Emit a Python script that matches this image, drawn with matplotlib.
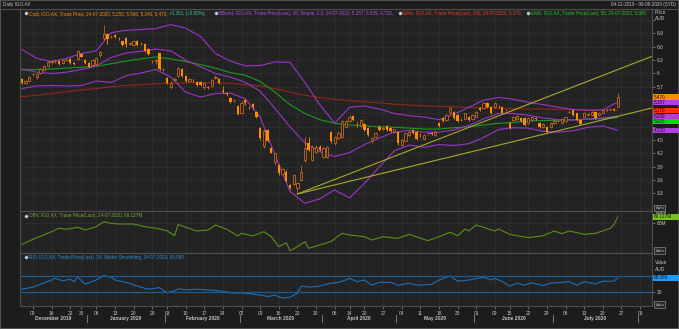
import numpy as np
import pandas as pd
import matplotlib
matplotlib.use("Agg")
import matplotlib.pyplot as plt
from matplotlib.lines import Line2D
from matplotlib.patches import Rectangle
from matplotlib.transforms import blended_transform_factory

plt.rcParams['font.family'] = ['Liberation Sans', 'DejaVu Sans']

# ---------------- data ----------------
ticker = "IGO.AX"
asx_holidays = ['2019-12-25', '2019-12-26', '2020-01-01', '2020-01-27',
                '2020-04-10', '2020-04-13', '2020-06-08']
axis_start, axis_end = '2019-12-04', '2020-08-06'

opens = [5.87, 5.78, 5.84, 5.98, 5.93, 6.00, 6.08, 6.17, 6.26, 6.27,
         6.29, 6.23, 6.30, 6.32, 6.23, 6.32, 6.44, 6.30, 6.23, 6.19,
         6.21, 6.42, 6.79, 6.89, 6.82, 6.86, 6.80, 6.72, 6.79, 6.67,
         6.64, 6.73, 6.66, 6.66, 6.55, 6.27, 6.29, 6.45, 6.09, 5.89,
         5.70, 5.86, 5.95, 6.11, 5.94, 5.82, 5.84, 5.81, 5.80, 5.70,
         5.70, 5.72, 5.90, 5.88, 5.60, 5.55, 5.44, 5.38, 5.27, 5.12,
         5.40, 5.23, 5.31, 5.14, 4.77, 4.36, 4.73, 4.32, 4.00, 3.94,
         3.74, 3.79, 3.49, 3.52, 3.42, 3.60, 4.05, 4.43, 4.05, 4.24,
         4.35, 4.13, 4.13, 4.69, 4.43, 4.54, 4.58, 4.80, 4.92, 5.04,
         4.86, 4.82, 4.86, 4.77, 4.47, 4.56, 4.80, 4.76, 4.82, 4.77,
         4.69, 4.69, 4.39, 4.49, 4.62, 4.73, 4.69, 4.62, 4.52, 4.65,
         4.65, 4.62, 4.88, 4.99, 4.95, 5.10, 5.14, 5.07, 4.95, 4.97,
         5.03, 4.97, 5.03, 5.23, 5.22, 5.33, 5.24, 5.25, 5.27, 5.24,
         5.18, 4.89, 4.95, 4.97, 4.99, 4.99, 4.88, 4.95, 4.99, 4.88,
         4.80, 4.80, 4.80, 4.88, 4.92, 4.89, 4.92, 5.13, 5.18, 5.10,
         4.95, 5.03, 5.07, 5.07, 5.14, 5.07, 5.10, 5.18, 5.19, 5.19,
         5.25]
highs = [5.89, 5.86, 5.95, 6.01, 6.02, 6.13, 6.19, 6.29, 6.31, 6.32,
         6.31, 6.33, 6.34, 6.34, 6.25, 6.53, 6.46, 6.32, 6.25, 6.32,
         6.36, 6.50, 7.09, 6.90, 6.86, 6.88, 6.83, 6.74, 6.81, 6.71,
         6.74, 6.75, 6.70, 6.68, 6.57, 6.31, 6.33, 6.47, 6.13, 5.91,
         5.82, 5.91, 6.15, 6.13, 5.96, 5.89, 5.87, 5.83, 5.82, 5.80,
         5.72, 5.87, 5.97, 5.90, 5.72, 5.57, 5.46, 5.42, 5.29, 5.37,
         5.43, 5.26, 5.33, 5.16, 4.80, 4.74, 4.76, 4.34, 4.22, 3.96,
         3.88, 3.82, 3.52, 3.74, 3.56, 3.94, 4.58, 4.58, 4.38, 4.40,
         4.38, 4.35, 4.37, 4.71, 4.60, 4.70, 4.95, 4.96, 5.06, 5.07,
         4.92, 4.98, 4.88, 4.79, 4.57, 4.68, 4.83, 4.80, 4.84, 4.79,
         4.76, 4.71, 4.53, 4.67, 4.72, 4.75, 4.71, 4.65, 4.64, 4.69,
         4.68, 4.72, 4.90, 5.01, 5.09, 5.25, 5.16, 5.09, 4.99, 5.12,
         5.05, 5.09, 5.16, 5.25, 5.35, 5.36, 5.26, 5.35, 5.30, 5.26,
         5.21, 4.91, 5.05, 5.07, 5.01, 5.01, 5.01, 5.03, 5.02, 4.90,
         4.88, 4.82, 4.90, 4.96, 4.95, 4.99, 5.03, 5.17, 5.20, 5.12,
         4.97, 5.14, 5.10, 5.16, 5.16, 5.14, 5.20, 5.20, 5.22, 5.22,
         5.56]
lows = [5.76, 5.77, 5.82, 5.95, 5.88, 5.98, 6.06, 6.15, 6.22, 6.23,
        6.19, 6.21, 6.27, 6.22, 6.19, 6.30, 6.36, 6.21, 6.13, 6.17,
        6.19, 6.38, 6.76, 6.66, 6.79, 6.80, 6.76, 6.62, 6.60, 6.64,
        6.62, 6.62, 6.63, 6.49, 6.41, 6.24, 6.22, 6.07, 6.05, 5.77,
        5.66, 5.83, 5.93, 5.92, 5.80, 5.80, 5.81, 5.72, 5.72, 5.66,
        5.65, 5.70, 5.88, 5.77, 5.55, 5.50, 5.33, 5.36, 5.06, 5.08,
        5.30, 5.19, 5.21, 5.00, 4.50, 4.32, 4.45, 4.20, 3.95, 3.72,
        3.70, 3.55, 3.40, 3.49, 3.30, 3.58, 4.00, 4.26, 4.02, 4.20,
        4.25, 4.10, 4.10, 4.44, 4.40, 4.52, 4.55, 4.78, 4.90, 4.93,
        4.77, 4.80, 4.70, 4.60, 4.44, 4.54, 4.71, 4.73, 4.71, 4.69,
        4.67, 4.40, 4.37, 4.47, 4.60, 4.63, 4.50, 4.58, 4.50, 4.62,
        4.61, 4.60, 4.80, 4.90, 4.93, 5.08, 4.97, 4.90, 4.92, 4.95,
        4.93, 4.95, 5.01, 5.16, 5.20, 5.22, 5.08, 5.23, 5.23, 5.10,
        5.15, 4.74, 4.93, 4.95, 4.90, 4.82, 4.86, 4.93, 4.96, 4.78,
        4.78, 4.67, 4.78, 4.86, 4.90, 4.87, 4.90, 5.10, 5.05, 4.93,
        4.84, 5.01, 5.05, 5.05, 4.97, 5.05, 5.08, 5.15, 5.17, 5.15,
        5.24]
closes = [5.78, 5.84, 5.93, 5.99, 5.99, 6.11, 6.16, 6.26, 6.27, 6.28,
          6.21, 6.31, 6.31, 6.24, 6.22, 6.50, 6.38, 6.23, 6.15, 6.30,
          6.34, 6.48, 6.89, 6.77, 6.83, 6.82, 6.79, 6.64, 6.66, 6.68,
          6.72, 6.64, 6.67, 6.51, 6.43, 6.28, 6.30, 6.09, 6.10, 5.79,
          5.79, 5.87, 6.13, 5.94, 5.82, 5.87, 5.83, 5.74, 5.74, 5.78,
          5.67, 5.85, 5.91, 5.79, 5.58, 5.54, 5.35, 5.39, 5.09, 5.34,
          5.33, 5.22, 5.24, 5.03, 4.54, 4.71, 4.48, 4.22, 4.20, 3.75,
          3.85, 3.57, 3.43, 3.71, 3.53, 3.79, 4.32, 4.28, 4.35, 4.35,
          4.28, 4.32, 4.35, 4.47, 4.58, 4.67, 4.92, 4.92, 5.03, 4.95,
          4.87, 4.95, 4.73, 4.62, 4.54, 4.65, 4.73, 4.77, 4.73, 4.71,
          4.74, 4.43, 4.50, 4.65, 4.69, 4.65, 4.52, 4.61, 4.62, 4.66,
          4.64, 4.69, 4.82, 4.92, 5.07, 5.22, 4.99, 4.92, 4.96, 5.10,
          4.95, 5.07, 5.14, 5.18, 5.33, 5.24, 5.10, 5.33, 5.26, 5.12,
          5.17, 4.77, 5.03, 5.04, 4.92, 4.84, 4.99, 5.01, 4.98, 4.80,
          4.86, 4.69, 4.88, 4.94, 4.93, 4.97, 5.01, 5.14, 5.07, 4.95,
          4.86, 5.12, 5.08, 5.14, 4.99, 5.12, 5.18, 5.17, 5.20, 5.17,
          5.47]

# overlays, read every 4th trading day
line_idx = list(range(0, 161, 4))
bb_upper = [6.54, 6.34, 6.27, 6.34, 6.45, 6.51, 6.92, 6.97, 6.99, 7.01,
            7.10, 7.02, 6.83, 6.45, 6.28, 6.17, 6.18, 6.26, 6.25, 5.80,
            5.30, 4.88, 5.24, 5.27, 5.20, 5.10, 5.05, 5.02, 4.96, 5.08,
            5.24, 5.40, 5.46, 5.42, 5.35, 5.30, 5.24, 5.19, 5.17, 5.18,
            5.357]
bb_mid = [6.10, 6.03, 6.00, 6.03, 6.09, 6.17, 6.36, 6.46, 6.50, 6.55,
          6.51, 6.30, 6.15, 6.00, 5.92, 5.80, 5.60, 5.21, 4.80, 4.44,
          4.24, 4.13, 4.22, 4.40, 4.55, 4.68, 4.72, 4.68, 4.68, 4.73,
          4.83, 4.98, 5.10, 5.10, 5.06, 5.00, 4.96, 4.95, 4.98, 5.00,
          5.039]
bb_lower = [5.66, 5.72, 5.73, 5.72, 5.73, 5.83, 5.80, 5.95, 6.01, 6.09,
            5.92, 5.58, 5.47, 5.55, 5.56, 5.43, 5.02, 4.16, 3.35, 3.08,
            3.18, 3.38, 3.20, 3.53, 3.90, 4.26, 4.39, 4.34, 4.40, 4.38,
            4.42, 4.56, 4.74, 4.78, 4.77, 4.70, 4.68, 4.71, 4.79, 4.82,
            4.720]
ema50 = [6.08, 6.09, 6.10, 6.12, 6.14, 6.16, 6.22, 6.28, 6.33, 6.37,
         6.33, 6.27, 6.20, 6.12, 6.02, 5.96, 5.82, 5.58, 5.30, 5.10,
         4.96, 4.88, 4.84, 4.82, 4.80, 4.79, 4.77, 4.75, 4.75, 4.78,
         4.80, 4.84, 4.88, 4.90, 4.93, 4.94, 4.95, 4.96, 4.97, 4.98,
         5.005]
ema200 = [5.48, 5.51, 5.55, 5.59, 5.63, 5.66, 5.70, 5.73, 5.75, 5.77,
          5.78, 5.79, 5.79, 5.79, 5.78, 5.75, 5.72, 5.66, 5.58, 5.51,
          5.46, 5.42, 5.39, 5.36, 5.34, 5.31, 5.29, 5.27, 5.26, 5.25,
          5.24, 5.23, 5.22, 5.21, 5.20, 5.20, 5.19, 5.19, 5.18, 5.18,
          5.170]

# user-drawn trend lines from the March low
trend_idx = [74, 169]
trend_upper = [3.29, 6.38]
trend_lower = [3.29, 5.22]

# on-balance volume, millions of shares
obv_idx = [0, 3, 8, 10, 12, 15, 17, 20, 22, 24, 26, 30, 33, 36, 39, 41, 42, 44,
           47, 50, 52, 55, 58, 59, 62, 65, 67, 69, 71, 72, 74, 76, 77, 80, 83,
           86, 88, 92, 94, 97, 101, 104, 109, 112, 115, 117, 119, 120, 122, 127,
           128, 131, 136, 140, 143, 145, 147, 151, 154, 158, 159, 160]
obv_m = [30.8, 37.8, 48.5, 53.3, 51.9, 54.7, 50.9, 55.5, 62.5, 60.3, 59.3, 59.3,
         55.5, 53.3, 49.9, 42.9, 58.9, 54.7, 49.5, 50.9, 57.9, 51.9, 42.5, 46.2,
         42.5, 48.5, 41.5, 27.4, 33.0, 21.8, 27.4, 34.4, 25.2, 29.8, 34.7, 46.2,
         43.9, 41.5, 36.8, 41.5, 39.2, 44.8, 35.9, 41.5, 47.6, 42.9, 52.3, 49.5,
         57.9, 49.5, 52.3, 44.8, 40.1, 42.9, 49.5, 45.7, 49.5, 44.8, 46.2, 53.3,
         58.5, 69.127]

rsi_idx = [0, 3, 8, 9, 11, 13, 14, 15, 17, 20, 22, 24, 25, 28, 32, 34, 37, 39,
           41, 42, 44, 47, 50, 53, 57, 59, 62, 66, 68, 70, 72, 74, 75, 77, 80,
           83, 85, 87, 88, 90, 92, 94, 96, 99, 101, 104, 106, 110, 112, 115,
           117, 120, 124, 126, 127, 129, 131, 133, 135, 137, 140, 142, 145,
           147, 149, 151, 154, 156, 159, 160]
rsi = [37, 42, 60, 64, 58, 62, 56, 67, 50, 60, 71, 67, 60, 54, 42, 37, 41, 28,
       33, 38, 35, 37, 35, 33, 27, 28, 25, 19, 22, 15, 17, 27, 45, 42, 45,
       52, 54, 60, 64, 56, 60, 47, 54, 54, 47, 52, 47, 49, 60, 70,
       57, 60, 67, 60, 64, 56, 45, 52, 47, 53, 46, 52, 54,
       56, 47, 56, 50, 57, 57, 65.089]

# ---------------- styling ----------------
W, H = 679, 329
FIG_BG = '#1c1c1c'
AX_BG = '#232323'
GRID = '#2e2e2e'
SEP = '#4d4d4d'
TXT = '#c4c4c4'
ORANGE = '#ff8c00'
UP_EDGE = '#c2691c'
PURPLE = '#9a35c8'
GREEN = '#1c9a1c'
RED = '#8c2a18'
YELLOW = '#a9a92c'
OBV_C = '#5c8c1c'
RSI_C = '#1f6fb2'
FS = 3.5
LFS = 3.3

days = pd.bdate_range(axis_start, axis_end, freq='C', holidays=asx_holidays)
n_axis = len(days)

fig = plt.figure(figsize=(W / 100, H / 100), dpi=100)
fig.patch.set_facecolor(FIG_BG)


def rect(l, t, r, b):
    return [l / W, 1 - b / H, (r - l) / W, (b - t) / H]


ax_p = fig.add_axes(rect(20, 9, 652, 211))
ax_o = fig.add_axes(rect(20, 211, 652, 253), sharex=ax_p)
ax_r = fig.add_axes(rect(20, 253, 652, 306), sharex=ax_p)

# weekly ticks: first trading day of each week (skip the partial first week)
wk = days.to_period('W')
week_first = [i for i in range(1, n_axis) if wk[i] != wk[i - 1]]

for ax in (ax_p, ax_o, ax_r):
    ax.set_facecolor(AX_BG)
    for s in ax.spines.values():
        s.set_color(SEP)
        s.set_linewidth(0.8)
    ax.yaxis.tick_right()
    ax.tick_params(axis='y', colors='#8a8a8a', labelcolor=TXT, labelsize=FS,
                   length=2.5, width=0.5, pad=1)
    ax.set_xticks(week_first)
    ax.grid(True, color=GRID, linewidth=0.6)
    ax.set_axisbelow(True)
ax_p.set_xlim(-0.48, n_axis - 0.8)
for ax in (ax_p, ax_o):
    ax.tick_params(axis='x', length=0, labelbottom=False)

# ---- price panel ----
x = np.arange(len(closes))
o, h, l, c = map(np.array, (opens, highs, lows, closes))
up = c >= o
body_lo = np.minimum(o, c)
body_h = np.maximum(np.abs(c - o), 0.012)
ax_p.vlines(x[up], l[up], h[up], color=UP_EDGE, lw=0.6, zorder=3)
ax_p.vlines(x[~up], l[~up], h[~up], color=ORANGE, lw=0.6, zorder=3)
ax_p.bar(x[up], body_h[up], bottom=body_lo[up], width=0.62, facecolor=AX_BG,
         edgecolor=UP_EDGE, linewidth=0.6, zorder=4)
ax_p.bar(x[~up], body_h[~up], bottom=body_lo[~up], width=0.62, color=ORANGE,
         linewidth=0, zorder=4)

ax_p.plot(line_idx, ema200, color=RED, lw=0.8, zorder=2)
ax_p.plot(line_idx, ema50, color=GREEN, lw=0.8, zorder=2)
for band in (bb_upper, bb_mid, bb_lower):
    ax_p.plot(line_idx, band, color=PURPLE, lw=0.8, zorder=2)
ax_p.plot(trend_idx, trend_upper, color=YELLOW, lw=0.8, zorder=5)
ax_p.plot(trend_idx, trend_lower, color=YELLOW, lw=0.8, zorder=5)

ax_p.set_ylim(2.906, 7.451)
pticks = np.round(np.arange(3.3, 7.25, 0.3), 1)
ax_p.set_yticks(pticks)
ax_p.set_yticklabels([f"{v:g}" if v < 7 else "" for v in pticks])

# ---- OBV panel ----
ax_o.plot(obv_idx, obv_m, color=OBV_C, lw=0.8)
ax_o.set_ylim(18.58, 77.55)
ax_o.set_yticks([60])
ax_o.set_yticklabels(['60M'])

# ---- RSI panel ----
ax_r.plot(rsi_idx, rsi, color=RSI_C, lw=0.8)
for lvl in (30, 70):
    ax_r.axhline(lvl, color='#1b5c94', lw=0.9)
ax_r.set_ylim(-5, 127.5)
ax_r.set_yticks([30, 70])
ax_r.set_yticklabels(['30', '70'])
ax_r.grid(False, axis='y')

# x tick labels: day numbers, month names below
ax_r.set_xticklabels([days[i].strftime('%d') for i in week_first])
ax_r.tick_params(axis='x', colors='#8a8a8a', labelcolor=TXT, labelsize=FS,
                 length=2, width=0.5, pad=1.5)
tr = blended_transform_factory(ax_r.transData, ax_r.transAxes)
months = days.to_period('M')
mstarts = [0] + [i for i in range(1, n_axis) if months[i] != months[i - 1]]
mends = mstarts[1:] + [n_axis]
for a, b in zip(mstarts, mends):
    if b - a >= 10:
        ax_r.text((a + b - 1) / 2, -0.235, days[a].strftime('%B %Y'),
                  transform=tr, ha='center', va='center', fontsize=FS,
                  fontweight='bold', color=TXT, clip_on=False)
    if a > 0:
        ax_r.plot([a - 0.5, a - 0.5], [-0.17, -0.3], transform=tr,
                  color='#8a8a8a', lw=0.6, clip_on=False)

# ---- frame / header ----
fig.add_artist(Line2D([0, 1], [1 - 8.5 / H] * 2, transform=fig.transFigure,
                      color=SEP, lw=0.8))
fig.add_artist(Rectangle((0, 0), 1, 1, transform=fig.transFigure,
                         facecolor='none', edgecolor='#5c5c5c', lw=1.2))


def ftext(px, py, s, color=TXT, size=FS, **kw):
    return fig.text(px / W, 1 - py / H, s, color=color, fontsize=size,
                    va='center', **kw)


ftext(3, 4.3, f"Daily {ticker}", size=LFS)
ftext(676, 4.3, f"{days[0]:%d-%m-%Y} - {days[-1]:%d-%m-%Y} (SYD)", ha='right', size=LFS)
ftext(655, 12.5, "Price")
ftext(655, 19, "AUD")
ftext(655, 212.8, "Value")
ftext(655, 263, "Value")
ftext(655, 269.5, "AUD")
for yy in (208, 250.5, 304.5):
    ftext(655.5, yy, "Auto", color='#b0b0b0', size=3.2,
          bbox=dict(boxstyle='square,pad=0.25', facecolor='#2a2a2a',
                    edgecolor='#8a8a8a', lw=0.5))

renderer = fig.canvas.get_renderer()


def legend_line(px, py, parts):
    fig.add_artist(Line2D([(px - 3) / W], [1 - py / H], transform=fig.transFigure,
                          marker='o', markersize=2.3, markerfacecolor='#d8d8d8',
                          markeredgecolor='#7a8a9a', markeredgewidth=0.4))
    for s, col in parts:
        t = ftext(px, py, s, color=col, size=LFS)
        px = t.get_window_extent(renderer).x1


chg = closes[-1] - closes[-2]
legend_line(29, 13.3, [
    (f"Cndl, {ticker}, Trade Price, 24-07-2020, {opens[-1]:.3f}, {highs[-1]:.3f}, "
     f"{lows[-1]:.3f}, {closes[-1]:.3f}, ", ORANGE),
    (f"{chg:+.3f}, ({chg / closes[-2] * 100:+.2f}%),", '#2fc7a4')])
legend_line(219, 13.3, [(f"BBand, {ticker}, Trade Price(Last), 20, Simple, 2.0, 24-07-2020, "
                         f"{bb_upper[-1]:.3f}, {bb_mid[-1]:.3f}, {bb_lower[-1]:.3f},", '#b44ae6')])
legend_line(403, 13.3, [(f"EMA, {ticker}, Trade Price(Last), 200, 24-07-2020, {ema200[-1]:.3f},",
                         '#e8401c')])
legend_line(531, 13.3, [(f"EMA, {ticker}, Trade Price(Last), 50, 24-07-2020, {ema50[-1]:.3f}",
                         '#1fc41f')])
legend_line(29, 215.6, [(f"OBV, {ticker}, Trade Price(Last), 24-07-2020, {obv_m[-1]:.3f}M",
                         '#7aa83a')])
legend_line(29, 257.3, [(f"RSI, {ticker}, Trade Price(Last), 14, Wilder Smoothing, 24-07-2020, "
                         f"{rsi[-1]:.3f}", '#2b8fd6')])


# value boxes on the right scale, stacked so they do not overlap;
# tick labels hidden under a box are switched off, as on the terminal
def right_boxes(ax, items, bh=5.3, bw=26):
    x0 = ax.transAxes.transform((1, 0))[0] + 0.5
    rows = sorted(((ax.transData.transform((0, v))[1], s, col) for v, s, col in items),
                  key=lambda r: -r[0])
    prev = None
    spans = []
    for yd, s, col in rows:
        yc = yd if prev is None else min(yd, prev - bh)
        prev = yc
        spans.append((yc - bh / 2, yc + bh / 2))
        fig.add_artist(Rectangle((x0 / W, (yc - bh / 2) / H), bw / W, bh / H,
                                 transform=fig.transFigure, facecolor=col,
                                 edgecolor='none', zorder=5))
        fig.text((x0 + 1.2) / W, yc / H, s, fontsize=3.3, color='#111111',
                 va='center', ha='left', zorder=6)
    for tick_v, lab in zip(ax.get_yticks(), ax.get_yticklabels()):
        ty = ax.transData.transform((0, tick_v))[1]
        if any(lo - 2.5 < ty < hi + 2.5 for lo, hi in spans):
            lab.set_visible(False)


right_boxes(ax_p, [(closes[-1], f"{closes[-1]:.3f}", '#ff8c00'),
                   (bb_upper[-1], f"{bb_upper[-1]:.3f}", '#b040e0'),
                   (ema200[-1], f"{ema200[-1]:.3f}", '#ff3000'),
                   (bb_mid[-1], f"{bb_mid[-1]:.3f}", '#b040e0'),
                   (ema50[-1], f"{ema50[-1]:.3f}", '#00e000'),
                   (bb_lower[-1], f"{bb_lower[-1]:.3f}", '#b040e0')])
right_boxes(ax_o, [(obv_m[-1], f"{obv_m[-1]:.3f}M", '#7cc21e')])
right_boxes(ax_r, [(rsi[-1], f"{rsi[-1]:.3f}", '#1e9bff')])

fig.savefig('out.png', dpi=100, facecolor=FIG_BG)
